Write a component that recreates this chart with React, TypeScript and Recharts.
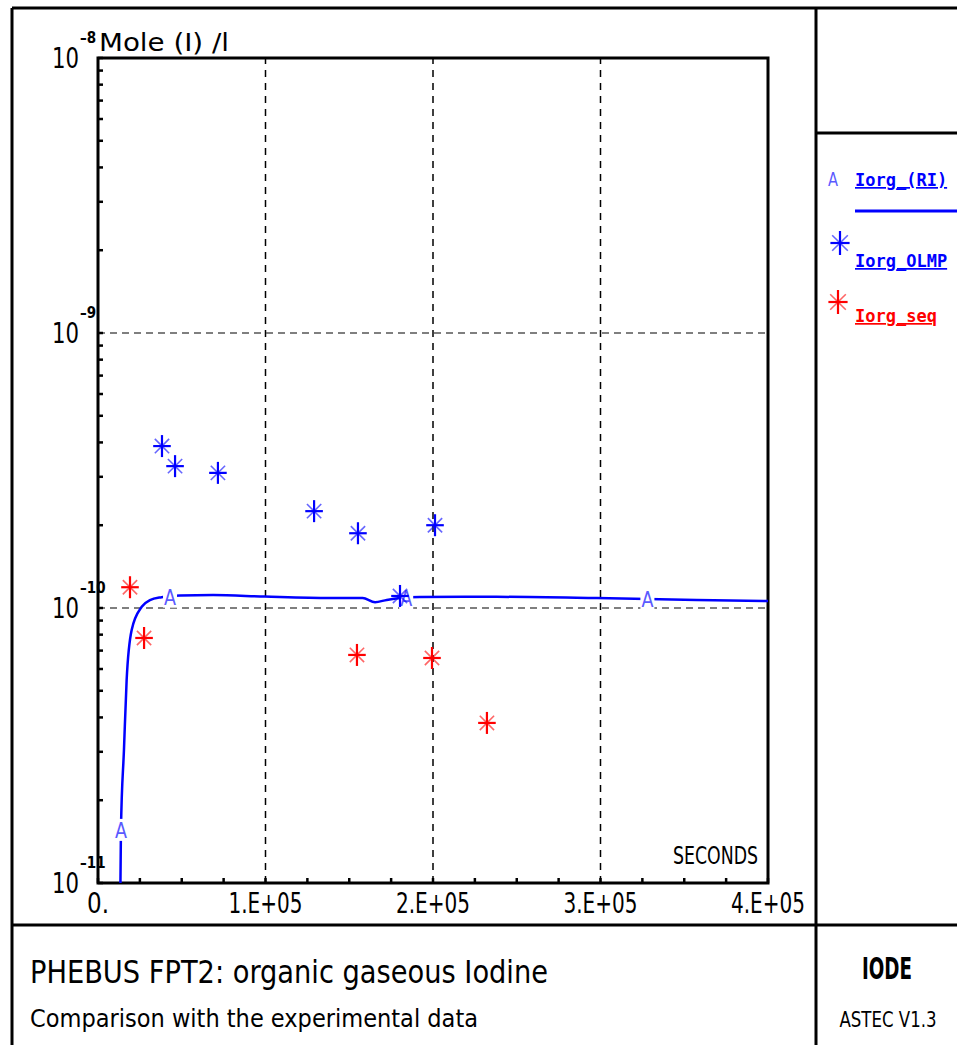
import { ComposedChart, Line, Scatter, XAxis, YAxis, ReferenceLine, ReferenceArea } from 'recharts'

// Iorg_(RI) computed curve (seconds, mole/l)
const RI_X = [13400, 13700, 15500, 17100, 20100, 26100, 31000, 38000, 49000, 68700, 99700, 138500, 158000, 165400, 172400, 180300, 192200, 238000, 297700, 357400, 400000]
const RI_Y = [1.0e-11, 1.56e-11, 3.05e-11, 5.47e-11, 8.32e-11, 1.01e-10, 1.069e-10, 1.095e-10, 1.11e-10, 1.115e-10, 1.1e-10, 1.087e-10, 1.087e-10, 1.05e-10, 1.07e-10, 1.087e-10, 1.096e-10, 1.098e-10, 1.087e-10, 1.07e-10, 1.06e-10]

// "A" label markers sitting on the RI curve
const RI_MARK_X = [13700, 43000, 184000, 328000]
const RI_MARK_Y = [1.56e-11, 1.1e-10, 1.087e-10, 1.08e-10]

// experimental points
const OLMP_X = [38200, 46000, 71600, 129000, 155200, 180300, 201200]
const OLMP_Y = [3.88e-10, 3.28e-10, 3.1e-10, 2.25e-10, 1.87e-10, 1.106e-10, 2.0e-10]
const SEQ_X = [19100, 27500, 154600, 199400, 232200]
const SEQ_Y = [1.19e-10, 7.78e-11, 6.75e-11, 6.58e-11, 3.82e-11]

const X_TICKS = [0, 25000, 50000, 75000, 100000, 125000, 150000, 175000, 200000, 225000, 250000, 275000, 300000, 325000, 350000, 375000, 400000]
const X_LABELS: Record<number, string> = { 0: '0.', 100000: '1.E+05', 200000: '2.E+05', 300000: '3.E+05', 400000: '4.E+05' }
const X_GRID = [100000, 200000, 300000]
const Y_DECADES = [1e-11, 1e-10, 1e-9]
const Y_MANTISSA = [1, 2, 3, 4, 5, 6, 7, 8, 9]
const Y_GRID = [1e-9, 1e-10]

const Y_TICKS = [...Y_DECADES.flatMap((d) => Y_MANTISSA.map((m) => m * d)), 1e-8]

const zip = (xs: number[], ys: number[]) => xs.map((x, i) => ({ x, y: ys[i] }))
const riData = zip(RI_X, RI_Y)
const riMarks = zip(RI_MARK_X, RI_MARK_Y)
const olmpData = zip(OLMP_X, OLMP_Y)
const seqData = zip(SEQ_X, SEQ_Y)

const NARROW = '"Liberation Sans Narrow", "DejaVu Sans Condensed", "Liberation Sans", sans-serif'
const MONO = '"DejaVu Sans Mono", "Liberation Mono", monospace'
const BLUE = '#0000ff'
const LIGHT_BLUE = '#5a5aff'
const RED = '#ff0000'

function Star({ cx, cy, color, size = 11 }: { cx: number; cy: number; color: string; size?: number }) {
  const w = size * 0.8
  const d = size * 0.65
  return (
    <g>
      <line x1={cx} y1={cy - size} x2={cx} y2={cy + size} stroke={color} strokeWidth={2.2} />
      <line x1={cx - w} y1={cy} x2={cx + w} y2={cy} stroke={color} strokeWidth={2.2} />
      <line x1={cx - d} y1={cy - d} x2={cx + d} y2={cy + d} stroke={color} strokeWidth={1.6} opacity={0.6} />
      <line x1={cx - d} y1={cy + d} x2={cx + d} y2={cy - d} stroke={color} strokeWidth={1.6} opacity={0.6} />
    </g>
  )
}

function AMark({ cx, cy }: any) {
  return (
    <g>
      <rect x={cx - 7} y={cy - 11} width={14} height={22} fill="#fff" />
      <text x={cx} y={cy + 8} textAnchor="middle" fontFamily={NARROW} fontSize={22} fill={LIGHT_BLUE} textLength={12} lengthAdjust="spacingAndGlyphs">A</text>
    </g>
  )
}

function XTick({ x, y, payload }: any) {
  const label = X_LABELS[payload.value]
  return (
    <g>
      <line x1={x} y1={y} x2={x} y2={y - 5} stroke="#000" strokeWidth={2.5} />
      {label && (
        <text x={x} y={y + 30} textAnchor="middle" fontFamily={NARROW} fontSize={28} fill="#000" textLength={label.length > 2 ? 74 : 22} lengthAdjust="spacingAndGlyphs">{label}</text>
      )}
    </g>
  )
}

function YTick({ x, y, payload }: any) {
  const lg = Math.log10(payload.value)
  const exp = Math.round(lg)
  const major = Math.abs(lg - exp) < 1e-6
  return (
    <g>
      <line x1={x} y1={y} x2={x + 5} y2={y} stroke="#000" strokeWidth={2.5} />
      {major && (
        <g>
          <text x={x - 19} y={y + 10} textAnchor="end" fontFamily={NARROW} fontSize={28} fill="#000" textLength={27} lengthAdjust="spacingAndGlyphs">10</text>
          <text x={x - 18} y={y - 15} textAnchor="start" fontFamily={NARROW} fontSize={15} fontWeight="bold" fill="#000">{'\u2013' + String(-exp)}</text>
        </g>
      )}
    </g>
  )
}

export default function App() {
  return (
    <div style={{ position: 'absolute', left: 0, top: 0, width: 957, height: 1045, background: '#fff' }}>
      <ComposedChart width={957} height={1045} margin={{ top: 58, right: 189, bottom: 0, left: 0 }}>
        <XAxis
          type="number"
          dataKey="x"
          domain={[0, 400000]}
          ticks={X_TICKS}
          interval={0}
          height={162}
          tickSize={0}
          tickMargin={0}
          axisLine={false}
          tick={<XTick />}
          allowDataOverflow
        />
        <YAxis
          type="number"
          dataKey="y"
          scale="log"
          domain={[1e-11, 1e-8]}
          ticks={Y_TICKS}
          interval={0}
          width={98}
          tickSize={0}
          tickMargin={0}
          axisLine={false}
          tick={<YTick />}
          allowDataOverflow
        />
        {X_GRID.map((v) => (
          <ReferenceLine key={'x' + v} x={v} stroke="#000" strokeWidth={1.5} strokeDasharray="7 6" />
        ))}
        {Y_GRID.map((v) => (
          <ReferenceLine key={'y' + v} y={v} stroke="#555" strokeWidth={1.5} strokeDasharray="7 5" />
        ))}
        <Line data={riData} dataKey="y" type="monotone" stroke={BLUE} strokeWidth={2.5} dot={false} isAnimationActive={false} />
        <Scatter data={riMarks} dataKey="y" shape={<AMark />} isAnimationActive={false} />
        <Scatter data={olmpData} dataKey="y" shape={(p: any) => <Star cx={p.cx} cy={p.cy} color={BLUE} />} isAnimationActive={false} />
        <Scatter data={seqData} dataKey="y" shape={(p: any) => <Star cx={p.cx} cy={p.cy} color={RED} />} isAnimationActive={false} />
        <ReferenceArea x1={0} x2={400000} y1={1e-11} y2={1e-8} fill="none" stroke="#000" strokeWidth={3} />
      </ComposedChart>

      <svg width={957} height={1045} style={{ position: 'absolute', left: 0, top: 0, pointerEvents: 'none' }}>
        {/* axis titles */}
        <text x={99} y={51} fontFamily={NARROW} fontSize={24} fill="#000" textLength={130} lengthAdjust="spacingAndGlyphs">Mole (I) /l</text>
        <text x={758} y={864} textAnchor="end" fontFamily={NARROW} fontSize={24} fill="#000" textLength={85} lengthAdjust="spacingAndGlyphs">SECONDS</text>

        {/* frame */}
        <g stroke="#000" strokeWidth={3}>
          <line x1={12} y1={8} x2={957} y2={8} />
          <line x1={12} y1={8} x2={12} y2={1045} />
          <line x1={816} y1={8} x2={816} y2={1045} />
          <line x1={12} y1={925} x2={957} y2={925} />
          <line x1={816} y1={133} x2={957} y2={133} />
        </g>

        {/* legend */}
        <text x={833} y={186} textAnchor="middle" fontFamily={NARROW} fontSize={20} fill={LIGHT_BLUE} textLength={10} lengthAdjust="spacingAndGlyphs">A</text>
        <text x={855} y={186} fontFamily={MONO} fontSize={17} fontWeight="bold" fill={BLUE} textDecoration="underline">Iorg_(RI)</text>
        <line x1={855} y1={211} x2={957} y2={211} stroke={BLUE} strokeWidth={3} />
        <Star cx={840} cy={243} color={BLUE} size={12} />
        <text x={855} y={267} fontFamily={MONO} fontSize={17} fontWeight="bold" fill={BLUE} textDecoration="underline">Iorg_OLMP</text>
        <Star cx={838} cy={302} color={RED} size={12} />
        <text x={855} y={322} fontFamily={MONO} fontSize={17} fontWeight="bold" fill={RED} textDecoration="underline">Iorg_seq</text>

        {/* title block */}
        <text x={30} y={983} fontFamily={NARROW} fontSize={32} fill="#000" textLength={518} lengthAdjust="spacingAndGlyphs">PHEBUS FPT2: organic gaseous Iodine</text>
        <text x={30} y={1027} fontFamily={NARROW} fontSize={25} fill="#000" textLength={448} lengthAdjust="spacingAndGlyphs">Comparison with the experimental data</text>
        <text x={887} y={979} textAnchor="middle" fontFamily={NARROW} fontSize={30} fontWeight="bold" fill="#000" textLength={50} lengthAdjust="spacingAndGlyphs">IODE</text>
        <text x={888} y={1027} textAnchor="middle" fontFamily={NARROW} fontSize={21} fill="#000" textLength={97} lengthAdjust="spacingAndGlyphs">ASTEC V1.3</text>
      </svg>
    </div>
  )
}
